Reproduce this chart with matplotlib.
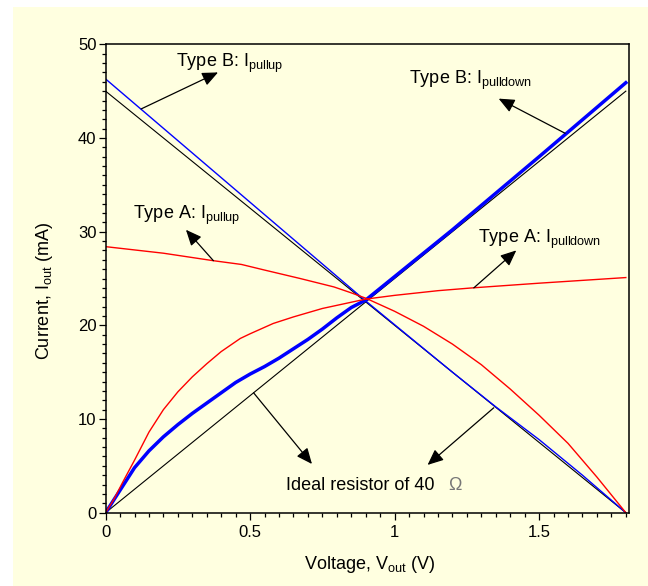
import matplotlib
matplotlib.use("Agg")
import matplotlib.pyplot as plt
from matplotlib.patches import Rectangle
from matplotlib.ticker import MultipleLocator, FixedLocator, FixedFormatter

plt.rcParams['font.family'] = ['Liberation Sans', 'DejaVu Sans']

# ---------------- data ----------------
V_ideal = [0.0, 1.8]
I_ideal_pulldown = [0.0, 45.0]
I_ideal_pullup = [45.0, 0.0]

V_B_pullup = [0, 0.3, 0.6, 0.9, 1.2, 1.35, 1.5, 1.65, 1.8]
I_B_pullup = [46.3, 38.4, 30.5, 22.6, 15.0, 11.3, 7.8, 4.0, 0.0]

V_B_pulldown = [0, 0.05, 0.1, 0.15, 0.2, 0.25, 0.3, 0.35, 0.4, 0.45, 0.5, 0.55,
                0.6, 0.65, 0.7, 0.75, 0.8, 0.85, 0.9, 1.0, 1.2, 1.5, 1.8]
I_B_pulldown = [0, 2.4, 4.8, 6.6, 8.1, 9.4, 10.6, 11.7, 12.8, 13.9, 14.8, 15.6,
                16.5, 17.5, 18.5, 19.6, 20.8, 21.9, 22.7, 25.2, 30.2, 38.0, 45.9]

V_A_pulldown = [0, 0.03, 0.06, 0.1, 0.15, 0.2, 0.25, 0.3, 0.35, 0.4, 0.466, 0.5,
                0.58, 0.65, 0.75, 0.9, 1.0, 1.15, 1.27, 1.5, 1.8]
I_A_pulldown = [0, 1.5, 3.3, 5.6, 8.6, 11.0, 12.9, 14.5, 15.9, 17.2, 18.6, 19.1,
                20.2, 20.9, 21.8, 22.8, 23.2, 23.7, 24.0, 24.5, 25.1]

V_A_pullup = [0, 0.2, 0.373, 0.47, 0.55, 0.673, 0.79, 0.847, 0.9, 1.0, 1.1,
              1.2, 1.3, 1.4, 1.5, 1.6, 1.7, 1.8]
I_A_pullup = [28.4, 27.7, 26.9, 26.5, 25.9, 25.0, 24.1, 23.5, 22.9, 21.5, 19.9,
              18.0, 15.8, 13.2, 10.4, 7.4, 3.8, 0.0]

x_ticks = [0, 0.5, 1, 1.5]
x_ticklabels = ["0", "0.5", "1", "1.5"]
y_ticks = [0, 10, 20, 30, 40, 50]
y_ticklabels = ["0", "10", "20", "30", "40", "50"]

# ---------------- figure ----------------
BG = '#FFFFE0'
fig = plt.figure(figsize=(6.48, 5.86), dpi=100, facecolor='white')
fig.patches.append(Rectangle((13 / 648, 0), 1 - 13 / 648, 1 - 7 / 586,
                             transform=fig.transFigure, facecolor=BG,
                             edgecolor='none', zorder=-10))

ax = fig.add_axes([105.6 / 648, (586 - 512.7) / 586, (629.3 - 105.6) / 648,
                   (512.7 - 44.3) / 586])
ax.set_facecolor(BG)

ax.plot(V_ideal, I_ideal_pulldown, color='black', lw=0.8)
ax.plot(V_ideal, I_ideal_pullup, color='black', lw=0.8)
ax.plot(V_B_pullup, I_B_pullup, color='#0000FF', lw=1.0)
ax.plot(V_B_pulldown, I_B_pulldown, color='#0000FF', lw=2.5)
ax.plot(V_A_pullup, I_A_pullup, color='#FF0000', lw=1.0)
ax.plot(V_A_pulldown, I_A_pulldown, color='#FF0000', lw=1.0)

ax.set_xlim(0, 1.812)
ax.set_ylim(0, 50)

ax.xaxis.set_major_locator(FixedLocator(x_ticks))
ax.xaxis.set_major_formatter(FixedFormatter(x_ticklabels))
ax.xaxis.set_minor_locator(MultipleLocator(0.05))
ax.yaxis.set_major_locator(FixedLocator(y_ticks))
ax.yaxis.set_major_formatter(FixedFormatter(y_ticklabels))
ax.yaxis.set_minor_locator(MultipleLocator(1))

ax.tick_params(which='major', length=5, width=0.9, direction='out',
               labelsize=12, color='black')
ax.tick_params(which='minor', length=3, width=0.9, direction='out', color='black')
ax.tick_params(axis='x', which='major', pad=3.5)
ax.tick_params(axis='y', which='major', pad=1.5)
for s in ax.spines.values():
    s.set_linewidth(1.1)

ax.set_xlabel(r'Voltage, $\mathregular{V_{out}}$ (V)', fontsize=13)
ax.xaxis.label.set_va('baseline')
ax.xaxis.set_label_coords(0.505, -0.120)
ax.set_ylabel(r'Current, $\mathregular{I_{out}}$ (mA)', fontsize=13)
ax.yaxis.label.set_va('baseline')
ax.yaxis.label.set_rotation_mode('anchor')
ax.yaxis.set_label_coords(-0.108, 0.474)

# ---------------- annotations ----------------
arrow_kw = dict(arrowstyle='-|>,head_length=0.8,head_width=0.35',
                mutation_scale=12, color='black', lw=0.9,
                shrinkA=0, shrinkB=0)

ax.text(0.244, 47.6, r'Type B: $\mathregular{I_{pullup}}$', fontsize=13,
        ha='left', va='baseline')
ax.annotate('', xy=(0.389, 47.0), xytext=(0.123, 43.1), arrowprops=arrow_kw)

ax.text(1.051, 45.8, r'Type B: $\mathregular{I_{pulldown}}$', fontsize=13,
        ha='left', va='baseline')
ax.annotate('', xy=(1.360, 44.2), xytext=(1.59, 40.5), arrowprops=arrow_kw)

ax.text(0.095, 31.3, r'Type A: $\mathregular{I_{pullup}}$', fontsize=13,
        ha='left', va='baseline')
ax.annotate('', xy=(0.278, 30.2), xytext=(0.373, 26.9), arrowprops=arrow_kw)

ax.text(1.287, 28.8, r'Type A: $\mathregular{I_{pulldown}}$', fontsize=13,
        ha='left', va='baseline')
ax.annotate('', xy=(1.421, 28.0), xytext=(1.274, 24.0), arrowprops=arrow_kw)

ax.text(0.625, 2.42, 'Ideal resistor of 40', fontsize=13, ha='left',
        va='baseline')
ax.text(1.184, 2.42, '\u03A9', fontsize=13, ha='left', va='baseline',
        color='#777777')
ax.annotate('', xy=(0.714, 5.2), xytext=(0.512, 12.8), arrowprops=arrow_kw)
ax.annotate('', xy=(1.114, 5.1), xytext=(1.343, 11.2), arrowprops=arrow_kw)

fig.savefig('out.png', dpi=100, facecolor=fig.get_facecolor())
